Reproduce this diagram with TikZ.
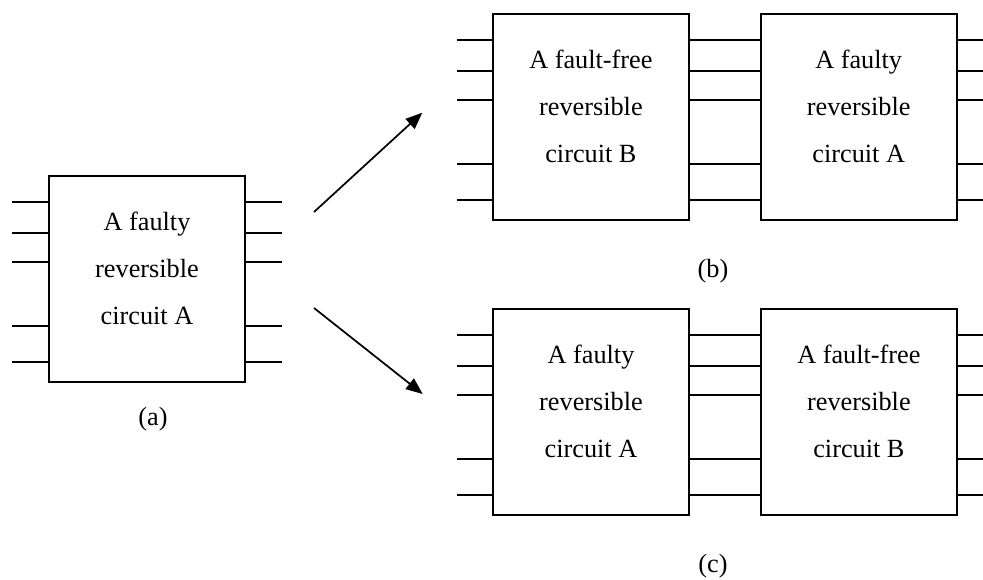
\documentclass[tikz,border=0pt]{standalone}
\usepackage{fontspec}
\setmainfont{Liberation Serif}
\usetikzlibrary{arrows.meta,calc}

% one unit = one pixel, y grows downwards
\tikzset{
  x=0.75pt, y=-0.75pt,
  block/.style={draw, line width=1.45pt, minimum width=147pt, minimum height=154.5pt, inner sep=0pt},
  wire/.style={line width=1.4pt},
  caption/.style={font=\fontsize{19.7}{24}\selectfont, inner sep=0pt, anchor=base},
  flow/.style={line width=1.3pt, -{Triangle[length=12.5pt,width=10pt]}},
}

% a circuit block with three lines of text and five wire ports per side
\newcommand\circuitblock[6]{%
  \node[block] (#1) at (#2,#3) {};
  \node[caption] (#1-t1) at ($(#1.center)+(0,-48)$) {#4};
  \node[caption] (#1-t2) at ($(#1.center)+(0,-1)$) {#5};
  \node[caption] (#1-t3) at ($(#1.center)+(0,46)$) {#6};
  \foreach \k/\dy in {1/-77,2/-46,3/-17,4/47,5/83}{
    \coordinate (#1-w\k) at ($(#1.center)+(-98,\dy)$);
    \coordinate (#1-e\k) at ($(#1.center)+(98,\dy)$);
  }%
}

\begin{document}
\begin{tikzpicture}
\useasboundingbox (0,0) rectangle (983,580);

% (a) the faulty circuit on its own
\circuitblock{fa}{147}{279}{A faulty}{reversible}{circuit A}
% (b) fault-free B followed by faulty A
\circuitblock{bB}{590.9}{117}{A fault-free}{reversible}{circuit B}
\circuitblock{bA}{858.7}{117}{A faulty}{reversible}{circuit A}
% (c) faulty A followed by fault-free B
\circuitblock{cA}{591}{412}{A faulty}{reversible}{circuit A}
\circuitblock{cB}{858.9}{412}{A fault-free}{reversible}{circuit B}

\foreach \k in {1,...,5}{
  \coordinate (fa-in\k) at ($(fa-w\k)+(-37,0)$);
  \coordinate (fa-out\k) at ($(fa-e\k)+(37,0)$);
  \coordinate (bB-in\k) at ($(bB-w\k)+(-36,0)$);
  \coordinate (bA-out\k) at ($(bA-e\k)+(36,0)$);
  \coordinate (cA-in\k) at ($(cA-w\k)+(-36,0)$);
  \coordinate (cB-out\k) at ($(cB-e\k)+(36,0)$);
  \draw[wire] (fa-in\k) -- (fa-w\k);
  \draw[wire] (fa-e\k) -- (fa-out\k);
  \draw[wire] (bB-in\k) -- (bB-w\k);
  \draw[wire] (bB-e\k) -- (bA-w\k);
  \draw[wire] (bA-e\k) -- (bA-out\k);
  \draw[wire] (cA-in\k) -- (cA-w\k);
  \draw[wire] (cA-e\k) -- (cB-w\k);
  \draw[wire] (cB-e\k) -- (cB-out\k);
}

% arrows from (a) to the two compositions
\coordinate (up0) at (314,212);
\coordinate (up1) at (422.3,112.7);
\coordinate (dn0) at (314,308);
\coordinate (dn1) at (422.7,394);
\draw[flow] (up0) -- (up1);
\draw[flow] (dn0) -- (dn1);

% sub-figure captions
\node[caption] (lbla) at (153,425.5) {(a)};
\node[caption] (lblb) at (713,278) {(b)};
\node[caption] (lblc) at (713,573) {(c)};
\end{tikzpicture}
\end{document}
